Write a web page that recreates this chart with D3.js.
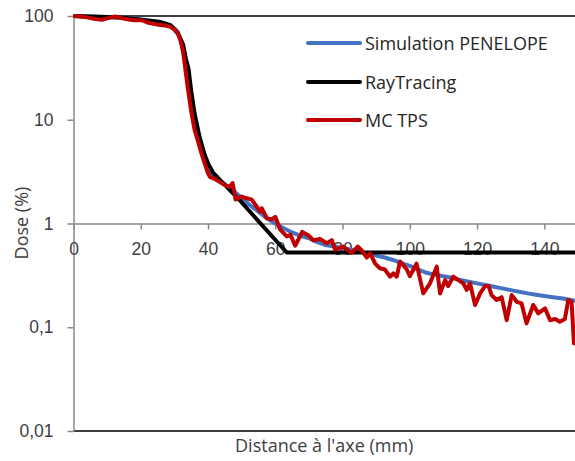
<!DOCTYPE html>
<html>
<head>
<meta charset="utf-8">
<title>Dose</title>
<style>
  body { margin: 0; background: #fff; }
  svg { font-family: "Open Sans", sans-serif; }
  .axis text { font-size: 17.5px; fill: #404040; }
  .axis line, .axis path { stroke: #898989; stroke-width: 1.5; }
  .serie { fill: none; stroke-width: 4; stroke-linejoin: round; stroke-linecap: round; }
  .leg text { font-size: 18px; fill: #262626; }
</style>
</head>
<body>
<script src="https://cdn.jsdelivr.net/npm/d3@7"></script>
<script>
// --- data (distance mm, dose %)
var penelopeX = [0, 5, 10, 15, 20, 25, 28, 30, 31, 32, 33, 34, 35, 36, 37, 38, 39, 40, 42, 45, 47, 50, 52.5, 55, 57.5, 60, 62.5, 65, 67.5, 70, 72.5, 75, 77.5, 80, 82.5, 85, 87.5, 90, 92.5, 95, 97.5, 100, 102.5, 105, 107.5, 110, 112.5, 115, 117.5, 120, 122.5, 125, 127.5, 130, 132.5, 135, 137.5, 140, 142.5, 145, 147.5, 150];
var penelopeY = [100, 99, 98, 96, 93, 88, 83, 76, 70, 58, 40, 25, 15, 9.5, 6.6, 5, 4, 3.3, 2.8, 2.4, 2.15, 1.75, 1.5, 1.3, 1.12, 1.0, 0.9, 0.82, 0.76, 0.72, 0.66, 0.62, 0.6, 0.58, 0.56, 0.54, 0.51, 0.49, 0.47, 0.445, 0.415, 0.39, 0.36, 0.335, 0.32, 0.31, 0.3, 0.285, 0.275, 0.265, 0.255, 0.246, 0.237, 0.228, 0.22, 0.212, 0.206, 0.2, 0.195, 0.19, 0.184, 0.178];

var rayX = [0, 10, 15, 21, 26, 29, 31, 32.6, 33.4, 34.2, 35, 36, 37.5, 39, 40, 41.5, 45, 49.6, 63.4, 150];
var rayY = [100, 98, 96, 91, 87.5, 81, 68.5, 53, 39, 31, 19, 11.5, 6.8, 4.6, 3.8, 3.1, 2.35, 1.65, 0.525, 0.525];

var mcX = [0, 2, 4, 6.5, 8.5, 10.5, 12.4, 14, 15.5, 18, 20.3, 22.3, 25.3, 27.8, 29, 30.2, 31.2, 31.8, 32.6, 33.3, 34, 35, 36, 37, 38, 39, 40, 40.6, 42, 44, 45, 46.3, 47.3, 48.2, 50, 51.5, 53, 54.5, 55.5, 56, 57.5, 59, 60, 61.4, 63.4, 64.5, 65.9, 68, 69.8, 71.3, 73.3, 75.3, 76.8, 77.8, 80.2, 82.7, 84.5, 85.5, 87.2, 88.2, 89.7, 91.1, 92.6, 94.1, 95.1, 96.1, 97.1, 99.1, 100, 102, 104, 106, 108, 109, 110.5, 111.4, 112.9, 115.9, 116.9, 117.9, 119.4, 120.9, 122.4, 123.4, 124.3, 125.8, 127.3, 128.8, 130.3, 131.8, 133.2, 134.7, 136.7, 138.2, 140.2, 141.7, 143.2, 144.6, 146.1, 147.1, 148.1, 148.8];
var mcY = [100, 99, 97, 93.5, 92, 96, 99, 96, 93.5, 91, 91, 86, 82.5, 80.5, 78, 73, 66, 58, 45, 30, 20, 12, 8, 6.2, 4.8, 3.8, 3.05, 2.8, 2.7, 2.45, 2.35, 2.25, 2.45, 1.7, 1.82, 1.75, 1.7, 1.45, 1.3, 1.4, 1.12, 1.1, 1.16, 0.88, 0.75, 0.78, 0.61, 0.83, 0.77, 0.69, 0.71, 0.645, 0.69, 0.56, 0.6, 0.52, 0.6, 0.56, 0.47, 0.516, 0.41, 0.37, 0.36, 0.307, 0.33, 0.307, 0.43, 0.36, 0.31, 0.41, 0.212, 0.265, 0.384, 0.212, 0.285, 0.25, 0.307, 0.265, 0.229, 0.265, 0.164, 0.212, 0.25, 0.25, 0.204, 0.183, 0.195, 0.117, 0.204, 0.176, 0.17, 0.109, 0.164, 0.136, 0.152, 0.117, 0.12, 0.113, 0.12, 0.183, 0.176, 0.07];

var seriesNames = ["Simulation PENELOPE", "RayTracing", "MC TPS"];
var seriesColors = ["#4472C4", "#000000", "#C00000"];
var xTicks = [0, 20, 40, 60, 80, 100, 120, 140];
var yTicks = [0.01, 0.1, 1, 10, 100];
var yTickLabels = ["0,01", "0,1", "1", "10", "100"];

var W = 575, H = 461;
var svg = d3.select("body").append("svg").attr("width", W).attr("height", H);

var x = d3.scaleLinear().domain([0, 150]).range([73.5, 578]);
var y = d3.scaleLog().domain([0.01, 100]).range([431, 16]);

// plot frame top / bottom
svg.append("line").attr("x1", x(0)).attr("x2", W).attr("y1", y(100)).attr("y2", y(100))
  .attr("stroke", "#000").attr("stroke-width", 1.5);
svg.append("line").attr("x1", x(0)).attr("x2", W).attr("y1", y(0.01)).attr("y2", y(0.01))
  .attr("stroke", "#000").attr("stroke-width", 1.5);

// axes
svg.append("g").attr("class", "axis")
  .attr("transform", "translate(" + x(0) + ",0)")
  .call(d3.axisLeft(y).tickValues(yTicks).tickSize(6).tickSizeOuter(0).tickPadding(14)
    .tickFormat(function (d, i) { return yTickLabels[i]; }));

svg.append("g").attr("class", "axis")
  .attr("transform", "translate(0," + y(1) + ")")
  .call(d3.axisBottom(x).tickValues(xTicks).tickSize(6).tickSizeOuter(0).tickPadding(13));

// titles
svg.append("text").attr("x", (x(0) + W) / 2).attr("y", 452).attr("text-anchor", "middle")
  .style("font-size", "18px").style("fill", "#404040").text("Distance à l'axe (mm)");
svg.append("text").attr("transform", "translate(28,223) rotate(-90)").attr("text-anchor", "middle")
  .style("font-size", "18px").style("fill", "#404040").text("Dose (%)");

// series
svg.append("clipPath").attr("id", "clip").append("rect")
  .attr("x", x(0)).attr("y", 0).attr("width", W - x(0)).attr("height", y(0.01));
var line = d3.line().x(function (d) { return x(d[0]); }).y(function (d) { return y(d[1]); });
var allSeries = [d3.zip(penelopeX, penelopeY), d3.zip(rayX, rayY), d3.zip(mcX, mcY)];
var plot = svg.append("g").attr("clip-path", "url(#clip)");
allSeries.forEach(function (s, i) {
  plot.append("path").datum(s).attr("class", "serie").attr("d", line).style("stroke", seriesColors[i]);
});

// legend
var leg = svg.append("g").attr("class", "leg");
var legY = [43, 82, 120];
seriesNames.forEach(function (n, i) {
  leg.append("line").attr("x1", 308).attr("x2", 360).attr("y1", legY[i]).attr("y2", legY[i])
    .attr("stroke", seriesColors[i]).attr("stroke-width", 4).attr("stroke-linecap", "round");
  leg.append("text").attr("x", 365).attr("y", legY[i] + 6.5).text(n);
});
</script>
</body>
</html>
